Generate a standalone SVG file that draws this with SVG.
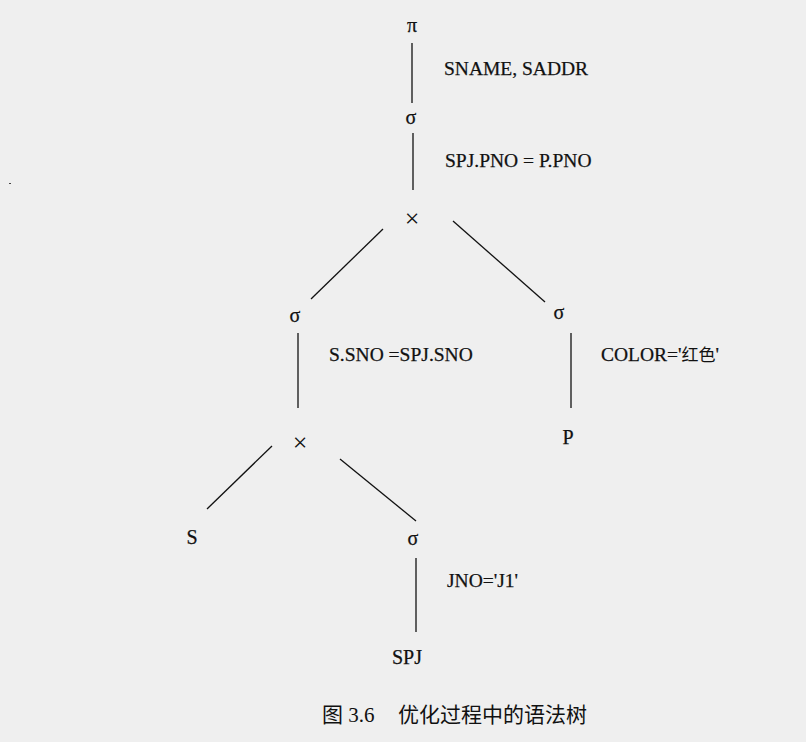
<svg xmlns="http://www.w3.org/2000/svg" width="806" height="742" viewBox="0 0 806 742">
<style>
text{font-family:"Liberation Serif","Times New Roman",serif;fill:#111;stroke:#111;stroke-width:0.25;}
.n{font-size:20px;text-anchor:middle;}
.x{font-size:26px;text-anchor:middle;stroke-width:0;}
.l{font-size:19.5px;}
.cap{font-family:"Liberation Serif","Noto Sans CJK SC",serif;font-size:21px;stroke-width:0;}
line{stroke:#111;stroke-width:1.3;fill:none;}
</style>
<rect width="806" height="742" fill="#efefef"/>
<rect x="9" y="183" width="2" height="1" fill="#444"/>
<g id="connectors">
<line x1="412" y1="43" x2="412" y2="103"/>
<line x1="413" y1="133" x2="413" y2="190"/>
<line x1="383" y1="229" x2="311" y2="299"/>
<line x1="453" y1="221" x2="545" y2="302"/>
<line x1="298" y1="333" x2="298" y2="408"/>
<line x1="571" y1="333" x2="571" y2="408"/>
<line x1="272" y1="446" x2="207" y2="509"/>
<line x1="340" y1="459" x2="416" y2="521"/>
<line x1="416" y1="558" x2="416" y2="632"/>
</g>
<g id="pi"><text class="n" x="412" y="32">π</text></g>
<g id="sigma1"><text class="n" x="411" y="124">σ</text><text class="l" x="444" y="75">SNAME, SADDR</text></g>
<g id="sigma1-label"><text class="l" x="445" y="167">SPJ.PNO = P.PNO</text></g>
<g id="cross1"><text class="x" x="412" y="227">×</text></g>
<g id="sigma2"><text class="n" x="295" y="322">σ</text><text class="l" x="329" y="361">S.SNO =SPJ.SNO</text></g>
<g id="sigma3"><text class="n" x="559" y="319">σ</text><text class="l" x="601" y="361">COLOR='<tspan font-family="Noto Sans CJK SC, sans-serif" font-size="17" stroke-width="0">红色</tspan>'</text></g>
<g id="P"><text class="n" x="568" y="444">P</text></g>
<g id="cross2"><text class="x" x="300" y="451">×</text></g>
<g id="S"><text class="n" x="192" y="544">S</text></g>
<g id="sigma4"><text class="n" x="413" y="545">σ</text><text class="l" x="447" y="587">JNO='J1'</text></g>
<g id="SPJ"><text class="n" x="407" y="664">SPJ</text></g>
<g id="caption"><text class="cap" x="322" y="722">图 3.6<tspan x="398">优化过程中的语法树</tspan></text></g>
</svg>
